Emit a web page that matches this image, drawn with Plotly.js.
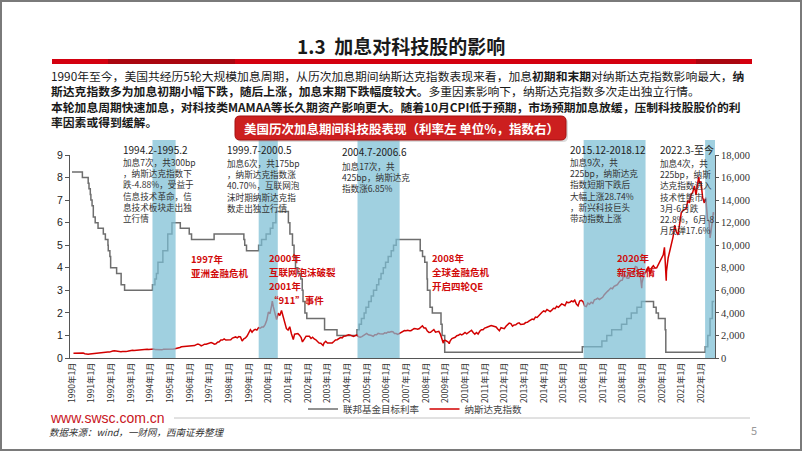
<!DOCTYPE html>
<html>
<head>
<meta charset="utf-8">
<script src="https://cdn.plot.ly/plotly-3.0.1.min.js"></script>
<style>html,body{margin:0;padding:0;background:#fff;}#chart{width:802px;height:451px;}</style>
</head>
<body>
<div id="chart"></div>
<script>
// ---------------- DATA ----------------
// Federal funds target rate (upper), change dates and values (%)
const fedDates = [
 '1990-01-01','1990-07-13','1990-10-29','1990-11-13','1990-12-07','1990-12-18',
 '1991-01-09','1991-02-01','1991-03-08','1991-04-30','1991-08-06','1991-09-13','1991-10-31','1991-11-06','1991-12-06','1991-12-20',
 '1992-04-09','1992-07-02','1992-09-04',
 '1994-02-04','1994-03-22','1994-04-18','1994-05-17','1994-08-16','1994-11-15','1995-02-01','1995-07-06','1995-12-19','1996-01-31',
 '1997-03-25','1998-09-29','1998-10-15','1998-11-17',
 '1999-06-30','1999-08-24','1999-11-16','2000-02-02','2000-03-21','2000-05-16',
 '2001-01-03','2001-01-31','2001-03-20','2001-04-18','2001-05-15','2001-06-27','2001-08-21','2001-09-17','2001-10-02','2001-11-06','2001-12-11',
 '2002-11-06','2003-06-25',
 '2004-06-30','2004-08-10','2004-09-21','2004-11-10','2004-12-14','2005-02-02','2005-03-22','2005-05-03','2005-06-30','2005-08-09','2005-09-20','2005-11-01','2005-12-13','2006-01-31','2006-03-28','2006-05-10','2006-06-29',
 '2007-09-18','2007-10-31','2007-12-11','2008-01-22','2008-01-30','2008-03-18','2008-04-30','2008-10-08','2008-10-29','2008-12-16',
 '2015-12-16','2016-12-14','2017-03-15','2017-06-14','2017-12-13','2018-03-21','2018-06-13','2018-09-26','2018-12-19',
 '2019-07-31','2019-09-18','2019-10-30','2020-03-03','2020-03-15',
 '2022-03-16','2022-05-04','2022-06-15','2022-07-27','2022-08-31'
];
const fedRates = [
 8.25,8.0,7.75,7.5,7.25,7.0,
 6.75,6.25,6.0,5.75,5.5,5.25,5.0,4.75,4.5,4.0,
 3.75,3.25,3.0,
 3.25,3.5,3.75,4.25,4.75,5.5,6.0,5.75,5.5,5.25,
 5.5,5.25,5.0,4.75,
 5.0,5.25,5.5,5.75,6.0,6.5,
 6.0,5.5,5.0,4.5,4.0,3.75,3.5,3.0,2.5,2.0,1.75,
 1.25,1.0,
 1.25,1.5,1.75,2.0,2.25,2.5,2.75,3.0,3.25,3.5,3.75,4.0,4.25,4.5,4.75,5.0,5.25,
 4.75,4.5,4.25,3.5,3.0,2.25,2.0,1.5,1.0,0.25,
 0.5,0.75,1.0,1.25,1.5,1.75,2.0,2.25,2.5,
 2.25,2.0,1.75,1.25,0.25,
 0.5,1.0,1.75,2.5,2.5
];

// NASDAQ composite, monthly closes from 1990-01
const nasdaqStartYear = 1990;
const nasdaqMonthly = [
 416,425,435,420,459,462,438,381,344,329,359,374,          //1990
 414,453,482,484,506,475,502,525,527,542,523,586,          //1991
 620,633,603,578,585,563,581,563,583,605,652,677,          //1992
 696,671,690,661,700,704,705,743,763,779,754,777,          //1993
 800,793,743,733,735,706,722,765,764,777,750,752,          //1994
 755,793,817,843,864,933,1001,1020,1044,1036,1059,1052,    //1995
 1060,1100,1101,1191,1243,1185,1081,1141,1227,1222,1293,1291, //1996
 1380,1309,1222,1261,1400,1442,1594,1587,1686,1594,1601,1570, //1997
 1619,1771,1835,1869,1779,1895,1872,1499,1694,1771,1950,2193, //1998
 2505,2288,2461,2543,2471,2686,2638,2739,2746,2966,3336,4069, //1999
 3940,4697,4573,3861,3401,3966,3767,4206,3673,3370,2598,2471, //2000
 2773,2152,1840,2116,2110,2161,2027,1805,1499,1690,1931,1950, //2001
 1934,1731,1845,1688,1616,1463,1328,1315,1172,1330,1479,1336, //2002
 1321,1338,1341,1464,1596,1623,1735,1810,1787,1932,1960,2003, //2003
 2066,2030,1994,1920,1987,2048,1887,1838,1897,1975,2097,2175, //2004
 2062,2052,1999,1922,2068,2057,2185,2152,2152,2120,2233,2205, //2005
 2306,2281,2340,2323,2179,2172,2091,2184,2258,2367,2432,2415, //2006
 2464,2416,2422,2525,2605,2603,2546,2596,2702,2859,2661,2652, //2007
 2389,2271,2279,2413,2523,2293,2326,2368,2092,1721,1536,1577, //2008
 1476,1378,1529,1717,1774,1835,1979,2009,2122,2045,2145,2269, //2009
 2147,2238,2398,2461,2257,2109,2255,2114,2369,2507,2498,2653, //2010
 2700,2782,2781,2874,2835,2774,2756,2579,2415,2684,2620,2605, //2011
 2814,2967,3092,3046,2827,2935,2940,3067,3116,2977,3010,3020, //2012
 3142,3160,3268,3329,3456,3403,3626,3590,3771,3920,4060,4177, //2013
 4104,4308,4199,4115,4243,4408,4370,4580,4493,4631,4792,4736, //2014
 4635,4964,4901,4941,5070,4987,5128,4777,4620,5054,5109,5007, //2015
 4614,4558,4870,4775,4948,4843,5162,5213,5312,5189,5324,5383, //2016
 5615,5825,5912,6048,6199,6140,6348,6429,6496,6728,6874,6903, //2017
 7411,7273,7063,7066,7442,7510,7672,8110,8046,7306,7331,6635, //2018
 7282,7533,7729,8095,7453,8006,8175,7963,7999,8292,8665,8973, //2019
 9151,8567,7700,8890,9490,10059,10745,11775,11168,10912,12199,12888, //2020
 13071,13192,13247,13962,13749,14504,14673,15259,14449,15498,15538,15645, //2021
 14240,13751,14221,12335,12081,11029,12391                  //2022
];
// intra-month highs / lows visible in the picture
const nasdaqExtraDates  = ['2000-03-10','2001-04-04','2001-09-21','2002-10-09','2008-11-20','2009-03-09','2018-12-24','2020-02-19','2020-03-23','2021-11-19','2022-06-16','2022-08-16','2022-08-19'];
const nasdaqExtraValues = [5049,1639,1424,1114,1316,1269,6193,9817,6861,16057,10646,12938,12705];

// rate-hike periods (shaded)
const hikeStart = ['1994-02-04','1999-07-01','2004-07-10','2016-01-10','2022-03-15'];
const hikeEnd   = ['1995-04-10','2000-06-20','2006-09-01','2019-03-05','2022-09-30'];

// x tick labels
const tickYears = [1990,1991,1992,1993,1994,1995,1996,1997,1998,1999,2000,2001,2002,2003,2004,2005,2006,2007,2008,2009,2010,2011,2012,2013,2014,2015,2016,2017,2018,2019,2020,2021,2022];
const tickLabels = tickYears.map(y => y + '年1月');
const tickVals = tickYears.map(y => y + '-01-01');

// ---------------- BUILD ----------------
const pts = [];
nasdaqMonthly.forEach((v, i) => {
  const y = nasdaqStartYear + Math.floor(i / 12), m = (i % 12) + 1;
  pts.push([y + '-' + String(m).padStart(2, '0') + '-28', v]);
});
nasdaqExtraDates.forEach((d, i) => pts.push([d, nasdaqExtraValues[i]]));
pts.sort((a, b) => a[0] < b[0] ? -1 : a[0] > b[0] ? 1 : 0);
const ndX = pts.map(p => p[0]), ndY = pts.map(p => p[1]);

// layout geometry helpers (pixel -> paper)
const ML = 70, MT = 155, PW = 645, PH = 203;
const px = v => (v - ML) / PW;
const py = v => (MT + PH - v) / PH;

const FONT = 'Noto Sans CJK SC, sans-serif';
const annotations = [];
function ann(text, x, y, size, color, extra) {
  annotations.push(Object.assign({
    text: text, x: px(x), y: py(y), xref: 'paper', yref: 'paper',
    xanchor: 'left', yanchor: 'middle', align: 'left', showarrow: false, borderpad: 0,
    font: {family: FONT, size: size, color: color}
  }, extra || {}));
}
// multi-line block: firstY = centre of first line
function block(lines, x, firstY, size, color, extra) {
  const lh = size * 1.3;
  ann(lines.join('<br>'), x, firstY + (lines.length - 1) * lh / 2, size, color, extra);
}

// slide title & text
ann('<b>1.3  加息对科技股的影响</b>', 401, 45, 19, '#1a1a1a', {xanchor: 'center'});
block([
  '1990年至今，美国共经历5轮大规模加息周期，从历次加息期间纳斯达克指数表现来看，加息<b>初期和末期</b>对纳斯达克指数影响最大，<b>纳</b>',
  '<b>斯达克指数多为加息初期小幅下跌，随后上涨，加息末期下跌幅度较大。</b>多重因素影响下，纳斯达克指数多次走出独立行情。',
  '<b>本轮加息周期快速加息，对科技类MAMAA等长久期资产影响更大。随着10月CPI低于预期，市场预期加息放缓，压制科技股股价的利</b>',
  '<b>率因素或得到缓解。</b>'
], 50, 75.5, 11.8, '#1a1a1a');
ann('<b>美国历次加息期间科技股表现（利率左 单位%，指数右）</b>', 401, 128.5, 12.5, '#ffffff', {xanchor: 'center'});

// period notes
const noteBlocks = [
  {x: 122, y: 149, head: '1994.2-1995.2', lines: ['加息7次，共300bp', '，纳斯达克指数下', '跌-4.88%，受益于', '信息技术革命，信', '息技术板块走出独', '立行情']},
  {x: 226, y: 150, head: '1999.7-2000.5', lines: ['加息6次，共175bp', '，纳斯达克指数涨', '40.70%，互联网泡', '沫时期纳斯达克指', '数走出独立行情']},
  {x: 341, y: 152, head: '2004.7-2006.6', lines: ['加息17次，共', '425bp，纳斯达克', '指数涨6.85%']},
  {x: 569, y: 149, head: '2015.12-2018.12', lines: ['加息9次，共', '225bp，纳斯达克', '指数短期下跌后', '大幅上涨28.74%', '，新兴科技巨头', '带动指数上涨']},
  {x: 659, y: 149, head: '2022.3-至今', lines: ['加息4次，共', '225bp，纳斯', '达克指数进入', '技术性熊市，', '3月-6月跌', '22.8%，6月-8', '月反弹17.6%']}
];
noteBlocks.forEach(b => {
  ann(b.head, b.x, b.y, 10, '#222');
  block(b.lines, b.x, b.y + 13.5, 8.6, '#333');
});

// event notes (red), one text per line
const events = [
  {x: 190, y: 259, lines: ['1997年', '亚洲金融危机']},
  {x: 268, y: 258, lines: ['2000年', '互联网泡沫破裂', '2001年', '“911”事件']},
  {x: 431, y: 258, lines: ['2008年', '全球金融危机', '开启四轮QE']},
  {x: 616, y: 258, lines: ['2020年', '新冠疫情']}
];
events.forEach(e => e.lines.forEach((t, i) => ann('<b>' + t + '</b>', e.x, e.y + i * 14, 9.5, '#d10a0a')));

// footer
ann('www.swsc.com.cn', 49, 418, 14, '#c8141c', {font: {family: 'Liberation Sans, Arial, sans-serif', size: 14, color: '#c8141c'}});
ann('<i>数据来源：wind，一财网，西南证券整理</i>', 48, 432, 9.5, '#333');
ann('5', 750, 430, 11, '#999');

// shapes
const shapes = [];
hikeStart.forEach((s, i) => shapes.push({
  type: 'rect', xref: 'x', yref: 'paper', x0: s, x1: hikeEnd[i], y0: 0, y1: py(140),
  fillcolor: 'rgb(124,190,212)', opacity: 0.72, line: {width: 0}, layer: 'above'
}));
// red title bar
shapes.push({type: 'rect', xref: 'paper', yref: 'paper', x0: px(52), x1: px(752), y0: py(59), y1: py(64), fillcolor: '#d4000f', line: {width: 0}});
shapes.push({type: 'rect', xref: 'paper', yref: 'paper', x0: px(108), x1: px(235), y0: py(59), y1: py(64), fillcolor: '#8e0a10', opacity: 0.6, line: {width: 0}});
shapes.push({type: 'rect', xref: 'paper', yref: 'paper', x0: px(696), x1: px(740), y0: py(59), y1: py(64), fillcolor: '#8e0a10', opacity: 0.6, line: {width: 0}});
// banner
function roundRect(x0, y0, x1, y1, r) {
  const f = (x, y) => px(x) + ',' + py(y);
  return 'M' + f(x0 + r, y0) + ' L' + f(x1 - r, y0) + ' Q' + f(x1, y0) + ' ' + f(x1, y0 + r) +
    ' L' + f(x1, y1 - r) + ' Q' + f(x1, y1) + ' ' + f(x1 - r, y1) +
    ' L' + f(x0 + r, y1) + ' Q' + f(x0, y1) + ' ' + f(x0, y1 - r) +
    ' L' + f(x0, y0 + r) + ' Q' + f(x0, y0) + ' ' + f(x0 + r, y0) + ' Z';
}
shapes.push({type: 'path', xref: 'paper', yref: 'paper', path: roundRect(237, 118, 568, 142, 5), fillcolor: '#9a9a9a', opacity: 0.35, line: {width: 0}});
shapes.push({type: 'path', xref: 'paper', yref: 'paper', path: roundRect(235, 116, 566, 140, 5), fillcolor: '#cc1f1f', line: {color: '#a51010', width: 1}});
// footer line
shapes.push({type: 'line', xref: 'paper', yref: 'paper', x0: px(174), x1: px(750), y0: py(418), y1: py(418), line: {color: '#c4c4c4', width: 1}});
// slide border
shapes.push({type: 'rect', xref: 'paper', yref: 'paper', x0: px(1), x1: px(801), y0: py(1), y1: py(450), line: {color: '#7a7a7a', width: 2}, fillcolor: 'rgba(0,0,0,0)'});

const traces = [
  {x: fedDates, y: fedRates, name: '联邦基金目标利率', type: 'scatter', mode: 'lines',
   line: {color: '#6e6e6e', width: 1.5, shape: 'hv'}, yaxis: 'y'},
  {x: ndX, y: ndY, name: '纳斯达克指数', type: 'scatter', mode: 'lines',
   line: {color: '#d20000', width: 1.5}, yaxis: 'y2'}
];

const layout = {
  width: 802, height: 451, autosize: false,
  margin: {l: ML, r: 802 - ML - PW, t: MT, b: 451 - MT - PH, pad: 0},
  paper_bgcolor: '#ffffff', plot_bgcolor: '#ffffff',
  font: {family: FONT, size: 10, color: '#333'},
  showlegend: true,
  legend: {orientation: 'h', x: px(415), xanchor: 'center', y: py(409), yanchor: 'middle',
           bgcolor: 'rgba(0,0,0,0)', font: {family: FONT, size: 9.5, color: '#444'}},
  xaxis: {type: 'date', range: ['1989-11-25', '2022-09-15'], tickvals: tickVals, ticktext: tickLabels,
          tickangle: -90, showgrid: false, zeroline: false, showline: true, linecolor: '#555', linewidth: 1,
          ticks: '', tickfont: {family: FONT, size: 8.5, color: '#333'}},
  yaxis: {range: [0, 9], dtick: 1, tick0: 0, showgrid: false, zeroline: false, showline: true,
          linecolor: '#555', linewidth: 1, ticks: 'outside', ticklen: 4, tickcolor: '#555',
          tickfont: {family: 'Liberation Sans, Arial, sans-serif', size: 10.5, color: '#222'}},
  yaxis2: {range: [0, 18000], overlaying: 'y', side: 'right', tickvals: [0,2000,4000,6000,8000,10000,12000,14000,16000,18000],
           tickformat: ',d', showgrid: false, zeroline: false, showline: true, linecolor: '#555', linewidth: 1,
           ticks: 'outside', ticklen: 3, tickcolor: '#555',
           tickfont: {family: 'Liberation Serif, serif', size: 10.5, color: '#333'}},
  shapes: shapes,
  annotations: annotations,
  hovermode: false
};

Plotly.newPlot('chart', traces, layout, {staticPlot: true, displayModeBar: false});
</script>
</body>
</html>
